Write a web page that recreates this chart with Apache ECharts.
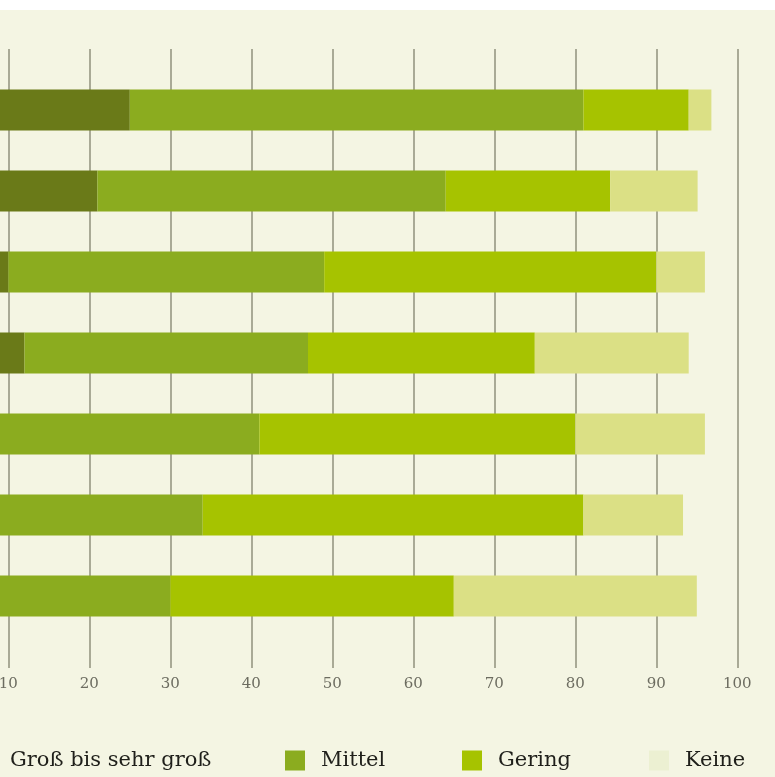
<!DOCTYPE html>
<html>
<head>
<meta charset="utf-8">
<script src="https://cdn.jsdelivr.net/npm/echarts@6/dist/echarts.min.js"></script>
<style>
  html, body { margin: 0; padding: 0; background: #ffffff; }
  #chart { position: absolute; left: 0; top: 10px; width: 775px; height: 767px; }
</style>
</head>
<body>
<div id="chart"></div>
<script>
// Data (category labels sit off the visible area in the reference)
const categories = ['Kategorie 1', 'Kategorie 2', 'Kategorie 3', 'Kategorie 4', 'Kategorie 5', 'Kategorie 6', 'Kategorie 7'];
const grossBisSehrGross = [25, 21, 10, 12, 0, 0, 0];
const mittel = [56, 43, 39, 35, 41, 34, 30];
const gering = [13, 20.3, 41, 28, 39, 47, 35];
const keine = [2.8, 10.8, 6, 19, 16, 12.3, 30];
const xTicks = [0, 10, 20, 30, 40, 50, 60, 70, 80, 90, 100];

const colors = {
  gross: '#6a7a18',
  mittel: '#8bac1f',
  gering: '#a6c300',
  keine: '#dbe085',
  keineLegend: '#ecf0d2'
};

const serif = "'DejaVu Serif', 'Liberation Serif', serif";
const gridLeft = -72.7;
const gridRight = 37.7;

function legendItem(name, left, iconColor) {
  return {
    left: left,
    top: 740,
    padding: 0,
    itemWidth: 20,
    itemHeight: 20,
    icon: 'rect',
    selectedMode: false,
    data: [{ name: name, itemStyle: { color: iconColor } }],
    textStyle: {
      fontFamily: serif,
      fontSize: 21,
      color: '#1f1f1a',
      padding: [4, 0, 0, 11]
    }
  };
}

function bar(name, data, color) {
  return {
    name: name,
    type: 'bar',
    stack: 'total',
    xAxisIndex: 0,
    yAxisIndex: 0,
    barWidth: 41,
    itemStyle: { color: color },
    emphasis: { disabled: true },
    data: data
  };
}

const chart = echarts.init(document.getElementById('chart'));
chart.setOption({
  backgroundColor: '#f4f5e3',
  animation: false,
  legend: [
    legendItem('Groß bis sehr groß', -26, colors.gross),
    legendItem('Mittel', 285, colors.mittel),
    legendItem('Gering', 462, colors.gering),
    legendItem('Keine', 649, colors.keineLegend)
  ],
  grid: [
    // bars
    { left: gridLeft, right: gridRight, top: 59.5, height: 567, outerBoundsMode: 'none' },
    // gridlines + labels
    { left: gridLeft, right: gridRight, top: 39, bottom: 109, outerBoundsMode: 'none' }
  ],
  xAxis: [
    {
      gridIndex: 0,
      type: 'value',
      min: xTicks[0],
      max: xTicks[xTicks.length - 1],
      interval: 10,
      show: false
    },
    {
      gridIndex: 1,
      type: 'value',
      min: xTicks[0],
      max: xTicks[xTicks.length - 1],
      interval: 10,
      axisLine: { show: false },
      axisTick: { show: false },
      splitLine: { show: true, lineStyle: { color: '#a9aa96', width: 2 } },
      axisLabel: {
        margin: 9,
        fontFamily: serif,
        fontSize: 15,
        color: '#6c6c60'
      }
    }
  ],
  yAxis: [
    {
      gridIndex: 0,
      type: 'category',
      inverse: true,
      data: categories,
      show: false
    },
    {
      gridIndex: 1,
      type: 'value',
      show: false
    }
  ],
  series: [
    bar('Groß bis sehr groß', grossBisSehrGross, colors.gross),
    bar('Mittel', mittel, colors.mittel),
    bar('Gering', gering, colors.gering),
    bar('Keine', keine, colors.keine)
  ]
});
</script>
</body>
</html>
